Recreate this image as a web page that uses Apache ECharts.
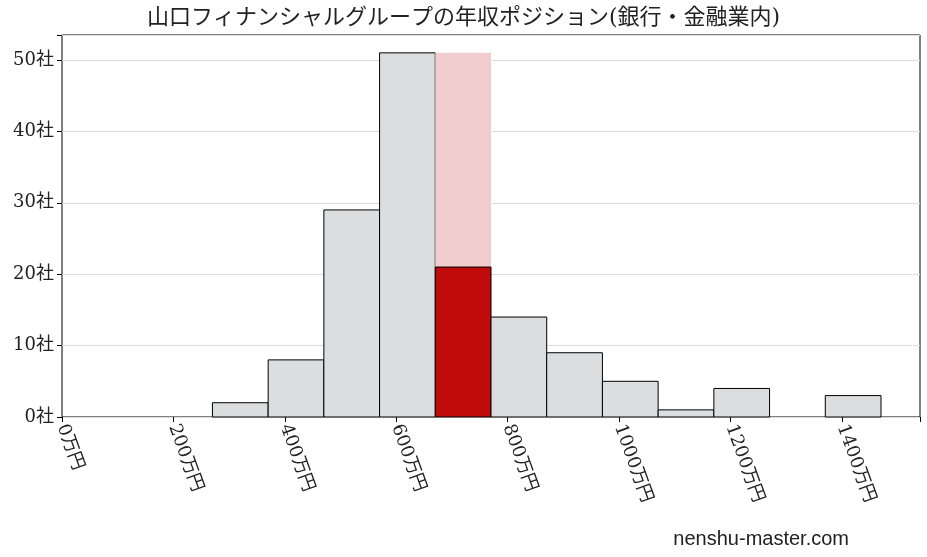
<!DOCTYPE html>
<html><head><meta charset="utf-8">
<script src="https://cdn.jsdelivr.net/npm/echarts@6/dist/echarts.min.js"></script>
<style>html,body{margin:0;padding:0;background:#fff}#c{width:927px;height:557px}</style>
</head><body><div id="c"></div>
<script>
const binStarts = [270,370,470,570,670,770,870,970,1070,1170,1270,1370];
const counts    = [2,8,29,51,21,14,9,5,1,4,0,3];
const binWidth = 100;
const highlightIndex = 4;
const highlightTotal = 51;
const xTicks = [0,200,400,600,800,1000,1200,1400];
const yTicks = [0,10,20,30,40,50];

const font = '"DejaVu Serif","Liberation Serif","Noto Sans CJK JP",serif';
const data = binStarts.map((s,i)=>[s, s+binWidth, counts[i], i]);
const chart = echarts.init(document.getElementById('c'));
function rect(api, x0, x1, y, style){
  const p0 = api.coord([x0, 0]), p1 = api.coord([x1, y]);
  return {type:'rect', shape:{x:p0[0], y:p1[1], width:p1[0]-p0[0], height:p0[1]-p1[1]}, style};
}
chart.setOption({
  animation:false,
  title:{text:'山口フィナンシャルグループの年収ポジション(銀行・金融業内)', left:'center', top:2,
    textStyle:{fontSize:22, fontWeight:'normal', color:'#222', fontFamily:font}},
  grid:{left:62, right:7, top:35, bottom:140, show:true, borderColor:'#000', borderWidth:1},
  xAxis:{type:'value', min:0, max:1540, interval:200,
    axisLine:{show:false}, splitLine:{show:false},
    axisTick:{show:true, lineStyle:{color:'#000'}},
    axisLabel:{formatter:v=>xTicks.includes(v)?v+'万円':'', rotate:-70, fontSize:18, color:'#222', fontFamily:font, margin:8}},
  yAxis:{type:'value', min:0, max:53.5, interval:10,
    axisLine:{show:false}, axisTick:{show:true, lineStyle:{color:'#000'}},
    splitLine:{lineStyle:{color:'#ddd'}},
    axisLabel:{formatter:v=>yTicks.includes(v)?v+'社':'', fontSize:18, color:'#222', fontFamily:font}},
  graphic:[{type:'text', right:78, bottom:8, style:{text:'nenshu-master.com', fontSize:20, fill:'#222', font:'20px '+font}}],
  series:[{type:'custom', data, encode:{x:[0,1], y:2},
    renderItem:(params, api)=>{
      const x0=api.value(0), x1=api.value(1), y=api.value(2), i=api.value(3);
      if(i===highlightIndex){
        return {type:'group', children:[
          rect(api,x0,x1,highlightTotal,{fill:'#f0cccc'}),
          rect(api,x0,x1,y,{fill:'#c00b0b', stroke:'#000', lineWidth:1})]};
      }
      if(y===0) return null;
      return rect(api,x0,x1,y,{fill:'#dcdddf', stroke:'#000', lineWidth:1});
    }}]
});
</script></body></html>
